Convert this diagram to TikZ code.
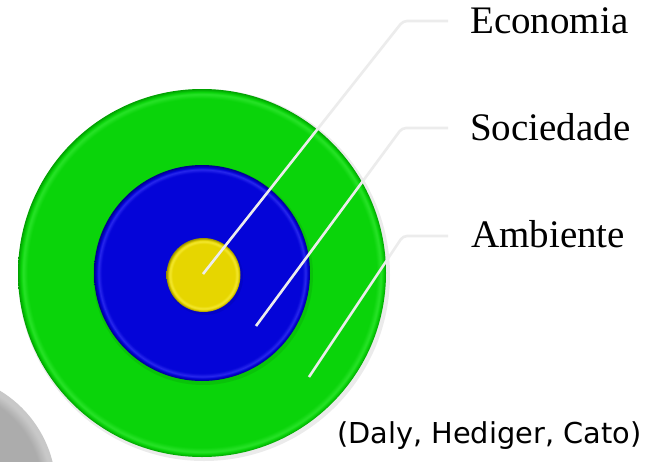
\documentclass[tikz,border=0pt]{standalone}
\usepackage{fontspec}
\setmainfont{Liberation Serif}
\newfontfamily\citefont{DejaVu Sans}
\definecolor{gmain}{RGB}{10,212,10}
\definecolor{gdark}{RGB}{0,160,0}
\definecolor{glight}{RGB}{40,226,40}
\definecolor{bmain}{RGB}{4,4,216}
\definecolor{bdark}{RGB}{0,0,140}
\definecolor{blight}{RGB}{40,40,236}
\definecolor{ymain}{RGB}{230,214,0}
\definecolor{ydark}{RGB}{150,140,0}
\definecolor{ylight}{RGB}{244,232,50}
\definecolor{grmain}{RGB}{172,172,172}
\definecolor{grlight}{RGB}{200,200,200}
\definecolor{linegray}{RGB}{236,236,236}
\pgfdeclareradialshading{bevelG}{\pgfpoint{0bp}{0bp}}{color(0bp)=(gmain); color(23.7bp)=(gmain); color(24.3bp)=(glight); color(24.6bp)=(gmain); color(25bp)=(gdark); color(50bp)=(gdark)}
\pgfdeclareradialshading{bevelB}{\pgfpoint{0bp}{0bp}}{color(0bp)=(bmain); color(23.2bp)=(bmain); color(24bp)=(blight); color(24.4bp)=(bmain); color(25bp)=(bdark); color(50bp)=(bdark)}
\pgfdeclareradialshading{bevelY}{\pgfpoint{0bp}{0bp}}{color(0bp)=(ymain); color(21bp)=(ymain); color(22.8bp)=(ylight); color(23.6bp)=(ymain); color(25bp)=(ydark); color(50bp)=(ydark)}
\pgfdeclareradialshading{bevelGr}{\pgfpoint{0bp}{0bp}}{color(0bp)=(grmain); color(22bp)=(grmain); color(24bp)=(grlight); color(25bp)=(grlight); color(50bp)=(grlight)}
\tikzset{
  disc/.style={circle, inner sep=0pt, outer sep=0pt, minimum size=#1},
  shadowdisc/.style={fill=black, opacity=0.08},
  conn/.style={draw=linegray, line width=2.6pt, rounded corners=4pt},
  lbl/.style={inner sep=0pt, anchor=base west, font=\fontsize{39}{40}\selectfont},
  cite/.style={inner sep=0pt, anchor=base west, font=\citefont\fontsize{28.8}{30}\selectfont}
}
\begin{document}
\begin{tikzpicture}[x=1pt, y=-1pt]
\useasboundingbox (0,0) rectangle (651,461);
\fill[white] (0,0) rectangle (651,461);
% gray partial disc, bottom left
\begin{scope}
  \clip (0,0) rectangle (651,461);
  \node[disc=232pt, shading=bevelGr] (grey) at (-60,490) {};
\end{scope}
% shadows
\fill[shadowdisc] (204,275) circle (186);
\node[disc=368pt, shading=bevelG] (amb) at (202,273) {};
\fill[shadowdisc] (203,275) circle (110);
\node[disc=216pt, shading=bevelB] (soc) at (202,273) {};
\fill[shadowdisc] (205,277) circle (38);
\node[disc=74pt, shading=bevelY] (eco) at (203.5,275) {};
% labels
\node[lbl] (econ) at (470,33) {Economia};
\node[lbl] (socn) at (470,140) {Sociedade};
\node[lbl] (ambn) at (471,247) {Ambiente};
\node[cite] (cit) at (337,443) {(Daly, Hediger, Cato)};
% connector points
\coordinate (ecoS) at (203,274);
\coordinate (ecoB) at (403,21);
\coordinate (ecoE) at (448,21);
\coordinate (socS) at (256,326);
\coordinate (socB) at (402,128);
\coordinate (socE) at (448,128);
\coordinate (ambS) at (309,377);
\coordinate (ambB) at (403,236);
\coordinate (ambE) at (448,236);
\foreach \s/\b/\e in {ecoS/ecoB/ecoE, socS/socB/socE, ambS/ambB/ambE}{
  \draw[conn] (\s) -- (\b) -- (\e);
}
\end{tikzpicture}
\end{document}
